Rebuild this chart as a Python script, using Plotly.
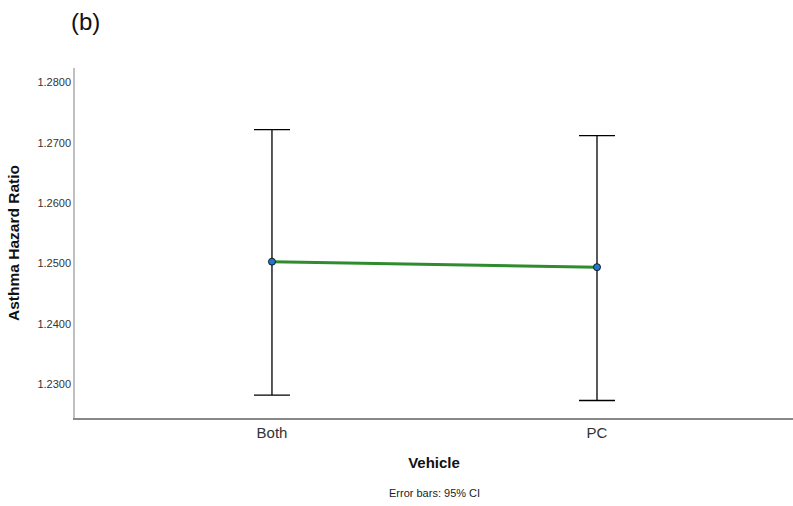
import plotly.graph_objects as go

categories = ["Both", "PC"]
means = [1.2503, 1.2494]
ci_upper = [1.2722, 1.2712]
ci_lower = [1.2282, 1.2273]
y_ticks = [1.23, 1.24, 1.25, 1.26, 1.27, 1.28]
y_tick_labels = ["1.2300", "1.2400", "1.2500", "1.2600", "1.2700", "1.2800"]

xpos = list(range(len(categories)))
err_plus = [u - m for u, m in zip(ci_upper, means)]
err_minus = [m - l for m, l in zip(means, ci_lower)]

fig = go.Figure()
fig.add_trace(go.Scatter(
    x=xpos, y=means, mode="lines",
    line=dict(color="#2e8b2e", width=3),
    error_y=dict(type="data", symmetric=False, array=err_plus, arrayminus=err_minus,
                 color="black", thickness=1.3, width=18),
    hoverinfo="skip", showlegend=False,
))
fig.add_trace(go.Scatter(
    x=xpos, y=means, mode="markers",
    marker=dict(color="#1f77d4", size=7, line=dict(color="#1a1a1a", width=1)),
    showlegend=False,
))

L, R, T, B = 75, 0, 68, 88
W, H = 793, 506
pw = W - L - R
ph = H - T - B
def px_x(x): return (x - L) / pw
def px_y(y): return (H - B - y) / ph

fig.update_layout(
    width=W, height=H,
    margin=dict(l=L, r=R, t=T, b=B),
    plot_bgcolor="white", paper_bgcolor="white",
    font=dict(family="Liberation Sans, Arial, sans-serif", color="#222"),
    xaxis=dict(
        range=[-0.606, 1.603], tickvals=xpos, ticktext=categories,
        showgrid=False, zeroline=False, showline=True, linecolor="#888", linewidth=1.5,
        ticks="", tickfont=dict(size=15, color="#333333"),
        title=dict(text="<b>Vehicle</b>", font=dict(size=15, color="#111111"), standoff=18),
    ),
    yaxis=dict(
        range=[1.2244, 1.2824], tickvals=y_ticks, ticktext=y_tick_labels,
        showgrid=False, zeroline=False, showline=True, linecolor="#c0c0c0", linewidth=1.5,
        ticks="", tickfont=dict(size=11, color="#333333"),
        title=dict(text="<b>Asthma Hazard Ratio</b>", font=dict(size=15.5, color="#111111"), standoff=14),
    ),
    annotations=[
        dict(text="(b)", x=px_x(85), y=px_y(22), xref="paper", yref="paper",
             xanchor="center", yanchor="middle", showarrow=False,
             font=dict(size=24, color="#111111")),
        dict(text="Error bars: 95% CI", x=px_x(434), y=px_y(493), xref="paper", yref="paper",
             xanchor="center", yanchor="middle", showarrow=False,
             font=dict(size=11, color="#222222")),
    ],
)

fig.write_html("out.html")
